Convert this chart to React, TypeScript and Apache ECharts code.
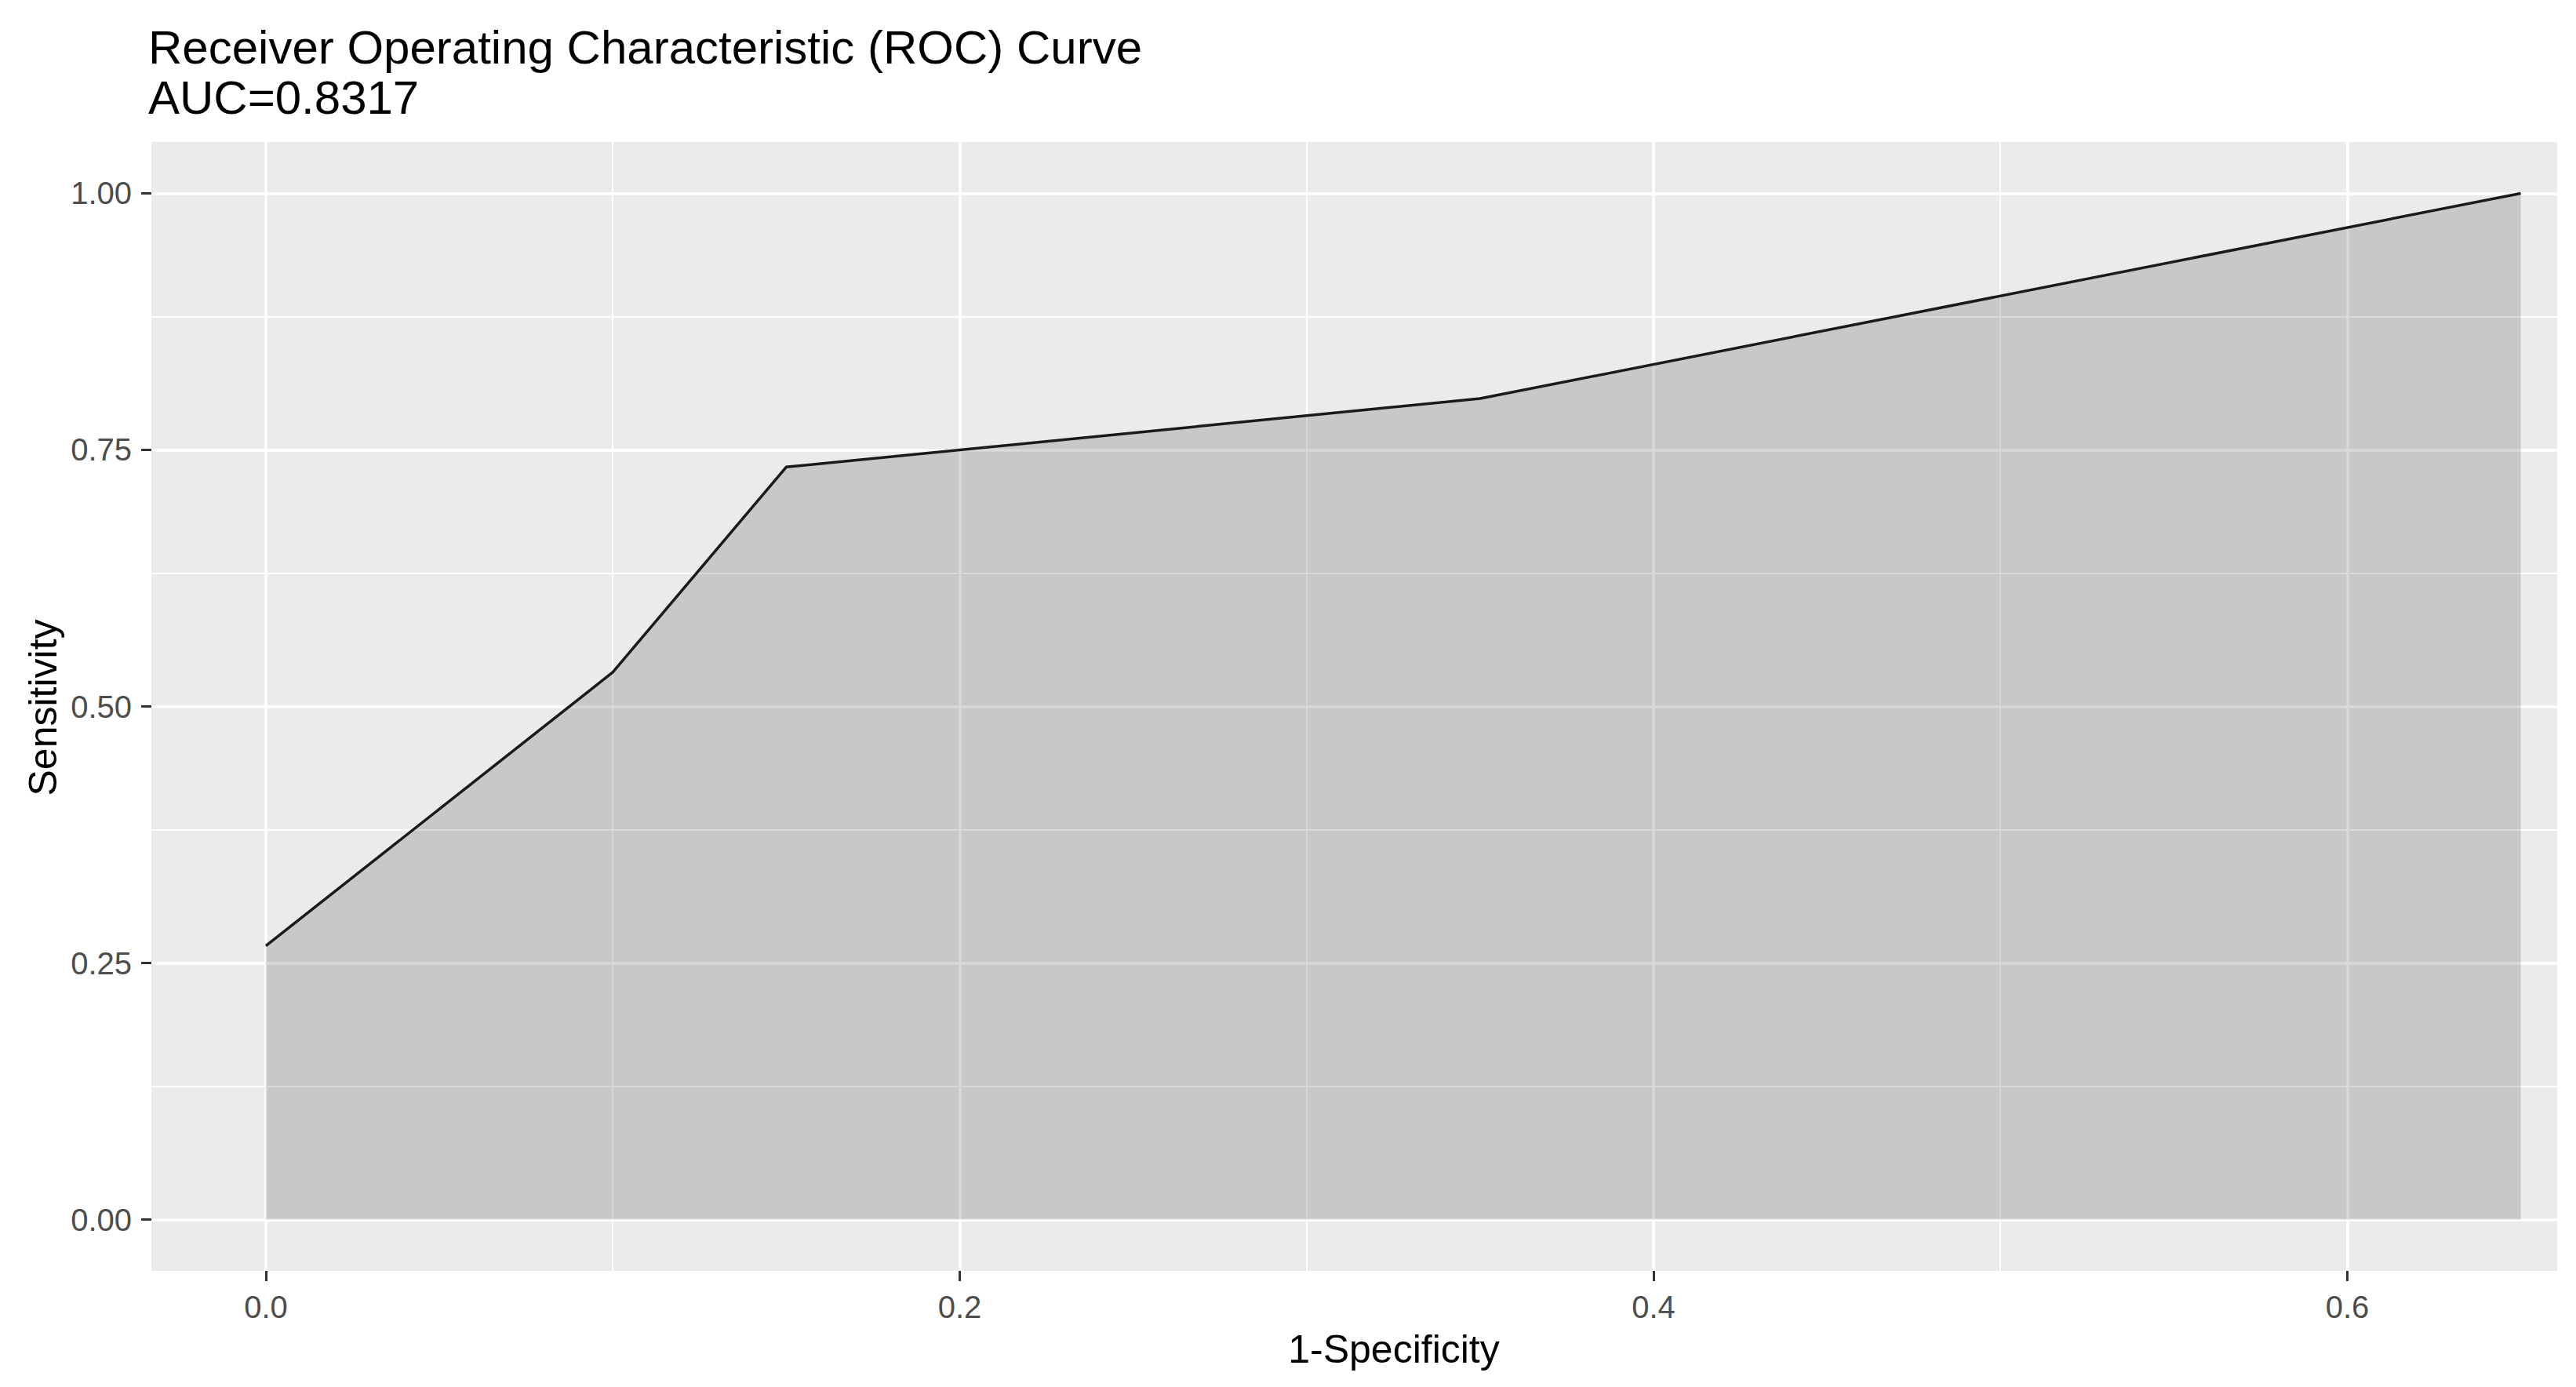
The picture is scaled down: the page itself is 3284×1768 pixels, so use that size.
import React, { useEffect, useRef } from "react";
import * as echarts from "echarts";

const titleLine1 = "Receiver Operating Characteristic (ROC) Curve";
const titleLine2 = "AUC=0.8317";
const xTitle = "1-Specificity";
const yTitle = "Sensitivity";

const fpr = [0, 0.1, 0.15, 0.35, 0.65];
const sensitivity = [0.2667, 0.5333, 0.7333, 0.8, 1.0];

const xTicks = [0, 0.2, 0.4, 0.6];
const yTicks = [0, 0.25, 0.5, 0.75, 1];
const xMinor = [0.1, 0.3, 0.5];
const yMinor = [0.125, 0.375, 0.625, 0.875];

const FONT = '"Liberation Sans", Arial, Helvetica, sans-serif';

export default function App() {
  const ref = useRef<HTMLDivElement>(null);

  useEffect(() => {
    if (!ref.current) return;
    const chart = echarts.init(ref.current, null, { renderer: "svg" });
    const points = fpr.map((x, i) => [x, sensitivity[i]]);

    const major = { color: "#ffffff", width: 3.5, type: "solid" as const };
    const minor = { color: "#ffffff", width: 1.8, type: "solid" as const };
    const gridLines: any[] = [];
    xTicks.forEach((v) => gridLines.push({ xAxis: v, lineStyle: major }));
    xMinor.forEach((v) => gridLines.push({ xAxis: v, lineStyle: minor }));
    yTicks.forEach((v) => gridLines.push({ yAxis: v, lineStyle: major }));
    yMinor.forEach((v) => gridLines.push({ yAxis: v, lineStyle: minor }));

    const hiddenLine = {
      show: true,
      onZero: false,
      lineStyle: { color: "rgba(0,0,0,0)", width: 0 },
    };

    chart.setOption({
      animation: false,
      backgroundColor: "#ffffff",
      title: {
        text: titleLine1 + "\n" + titleLine2,
        left: 189,
        top: 28,
        padding: 0,
        textStyle: {
          fontFamily: FONT,
          fontSize: 60,
          lineHeight: 64,
          fontWeight: "normal",
          color: "#000000",
        },
      },
      grid: {
        left: 193,
        top: 181,
        width: 3067,
        height: 1439,
        show: true,
        z: 0,
        backgroundColor: "#ebebeb",
        borderWidth: 0,
        containLabel: false,
      },
      xAxis: {
        type: "value",
        position: "bottom",
        min: -0.033,
        max: 0.6605,
        axisLine: hiddenLine,
        splitLine: { show: false },
        axisTick: {
          show: true,
          inside: false,
          customValues: xTicks,
          length: 13,
          lineStyle: { color: "#333333", width: 3 },
        },
        axisLabel: {
          customValues: xTicks,
          formatter: (v: number) => v.toFixed(1),
          fontFamily: FONT,
          fontSize: 40,
          lineHeight: 40,
          color: "#4d4d4d",
          margin: 26,
        },
      },
      yAxis: {
        type: "value",
        position: "left",
        min: -0.05,
        max: 1.05,
        axisLine: hiddenLine,
        splitLine: { show: false },
        axisTick: {
          show: true,
          inside: false,
          customValues: yTicks,
          length: 13,
          lineStyle: { color: "#333333", width: 3 },
        },
        axisLabel: {
          customValues: yTicks,
          formatter: (v: number) => v.toFixed(2),
          fontFamily: FONT,
          fontSize: 40,
          lineHeight: 40,
          color: "#4d4d4d",
          margin: 25,
          padding: [8, 0, 0, 0],
        },
      },
      graphic: [
        {
          type: "text",
          x: 1777,
          y: 1720,
          silent: true,
          style: {
            text: xTitle,
            font: `50px ${FONT}`,
            fill: "#000000",
            textAlign: "center",
            textVerticalAlign: "middle",
          },
        },
        {
          type: "text",
          x: 55,
          y: 902,
          rotation: Math.PI / 2,
          silent: true,
          style: {
            text: yTitle,
            font: `50px ${FONT}`,
            fill: "#000000",
            textAlign: "center",
            textVerticalAlign: "middle",
          },
        },
      ],
      series: [
        {
          type: "line",
          z: 1,
          data: points,
          showSymbol: false,
          symbol: "none",
          silent: true,
          lineStyle: { opacity: 0, width: 0 },
          markLine: {
            z: 1,
            silent: true,
            symbol: ["none", "none"],
            label: { show: false },
            animation: false,
            data: gridLines,
          },
        },
        {
          type: "line",
          z: 3,
          data: points,
          showSymbol: false,
          symbol: "none",
          silent: true,
          lineStyle: { color: "#1a1a1a", width: 3.5 },
          areaStyle: { color: "rgba(0,0,0,0.15)", opacity: 1, origin: "auto" },
        },
      ],
    });

    return () => chart.dispose();
  }, []);

  return (
    <div
      ref={ref}
      style={{
        position: "absolute",
        left: 0,
        top: 0,
        width: 3284,
        height: 1768,
        background: "#ffffff",
      }}
    />
  );
}
